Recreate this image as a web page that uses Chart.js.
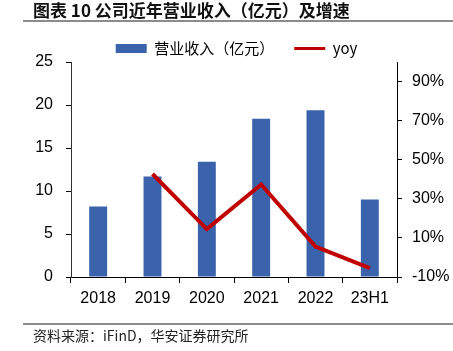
<!DOCTYPE html>
<html>
<head>
<meta charset="utf-8">
<script src="https://cdn.jsdelivr.net/npm/chart.js@4/dist/chart.umd.min.js"></script>
<style>
  html, body { margin:0; padding:0; background:#fff; width:453px; height:351px; overflow:hidden; }
  #wrap { position:absolute; left:0; top:0; width:453px; height:351px; }
  #title { position:absolute; left:33px; top:0px; font-family:"Noto Sans CJK SC","Liberation Sans",sans-serif; font-weight:700; font-size:17px; line-height:20px; color:#111; white-space:nowrap; }
  .rule { position:absolute; left:23px; width:430px; height:2px; background:#8c8c8c; }
  #source { position:absolute; left:33px; top:326px; font-family:"Noto Sans CJK SC","Liberation Sans",sans-serif; font-size:14px; line-height:18px; color:#222; white-space:nowrap; }
</style>
</head>
<body>
<div id="wrap"><canvas id="c" width="453" height="351"></canvas></div>
<div id="title">图表 10 公司近年营业收入（亿元）及增速</div>
<div class="rule" style="top:20px"></div>
<div class="rule" style="top:323px"></div>
<div id="source">资料来源：iFinD，华安证券研究所</div>
<script>
const categories = ['2018', '2019', '2020', '2021', '2022', '23H1'];
const revenue = [8.2, 11.7, 13.4, 18.4, 19.4, 9.0];
const yoy = [null, 42.7, 14.5, 37.3, 5.6, -5.5];
const leftTicks = [0, 5, 10, 15, 20, 25];
const rightTicks = [-10, 10, 30, 50, 70, 90];
const revenueLabel = '营业收入（亿元）';
const yoyLabel = 'yoy';

const BAR = '#3A63AB';
const RED = '#C00000';
const FONT = '"Liberation Sans", "Noto Sans CJK SC", sans-serif';

const shiftLegend = {
  id: 'shiftLegend',
  afterLayout(chart) {
    const lg = chart.legend;
    if (lg) { lg.left += 10; lg.right += 10; }
  }
};

new Chart(document.getElementById('c'), {
  data: {
    labels: categories,
    datasets: [
      { type: 'bar', label: revenueLabel, data: revenue, yAxisID: 'y', backgroundColor: BAR,
        barPercentage: 0.33, categoryPercentage: 1, order: 2 },
      { type: 'line', label: yoyLabel, data: yoy, yAxisID: 'y1', borderColor: RED, backgroundColor: RED,
        borderWidth: 4, pointRadius: 0, tension: 0, spanGaps: false, order: 1 }
    ]
  },
  plugins: [shiftLegend],
  options: {
    responsive: false,
    devicePixelRatio: 1,
    animation: false,
    layout: { padding: { top: 21, left: 0, right: 0, bottom: 0 } },
    plugins: {
      tooltip: { enabled: false },
      legend: {
        position: 'top',
        maxHeight: 41,
        labels: {
          usePointStyle: true,
          pointStyleWidth: 31,
          boxWidth: 31,
          boxHeight: 9,
          padding: 20,
          color: '#000',
          font: { size: 15, family: '"Noto Sans CJK SC", "Liberation Sans", sans-serif' },
          sort: (a, b) => a.datasetIndex - b.datasetIndex,
          generateLabels(chart) {
            const items = Chart.defaults.plugins.legend.labels.generateLabels(chart);
            items.forEach(it => {
              if (it.datasetIndex === 0) { it.pointStyle = 'rect'; it.lineWidth = 0; it.fillStyle = BAR; }
              else { it.pointStyle = 'line'; it.lineWidth = 3; it.strokeStyle = RED; it.fillStyle = RED; }
            });
            return items;
          }
        }
      }
    },
    scales: {
      x: {
        grid: { display: true, drawOnChartArea: false, drawTicks: true, tickLength: 6, color: '#000', offset: true },
        border: { display: true, color: '#000', width: 1 },
        ticks: { color: '#000', font: { size: 16, family: FONT }, padding: 6, maxRotation: 0 },
        afterFit(s) { s.height = 74; }
      },
      y: {
        position: 'left',
        min: 0, max: 25,
        grid: { display: true, drawOnChartArea: false, drawTicks: true, tickLength: 5, color: '#000' },
        border: { display: true, color: '#333', width: 1 },
        ticks: { color: '#000', font: { size: 16, family: FONT }, padding: 13 },
        afterBuildTicks(s) { s.ticks = leftTicks.map(v => ({ value: v })); },
        afterFit(s) { s.width = 71; }
      },
      y1: {
        position: 'right',
        min: -10, max: 100,
        grid: { display: true, drawOnChartArea: false, drawTicks: true, tickLength: 5, color: '#000' },
        border: { display: true, color: '#000', width: 1 },
        ticks: { color: '#000', font: { size: 16, family: FONT }, padding: 10, callback: v => v + '%' },
        afterBuildTicks(s) { s.ticks = rightTicks.map(v => ({ value: v })); },
        afterFit(s) { s.width = 56; }
      }
    }
  }
});
</script>
</body>
</html>
